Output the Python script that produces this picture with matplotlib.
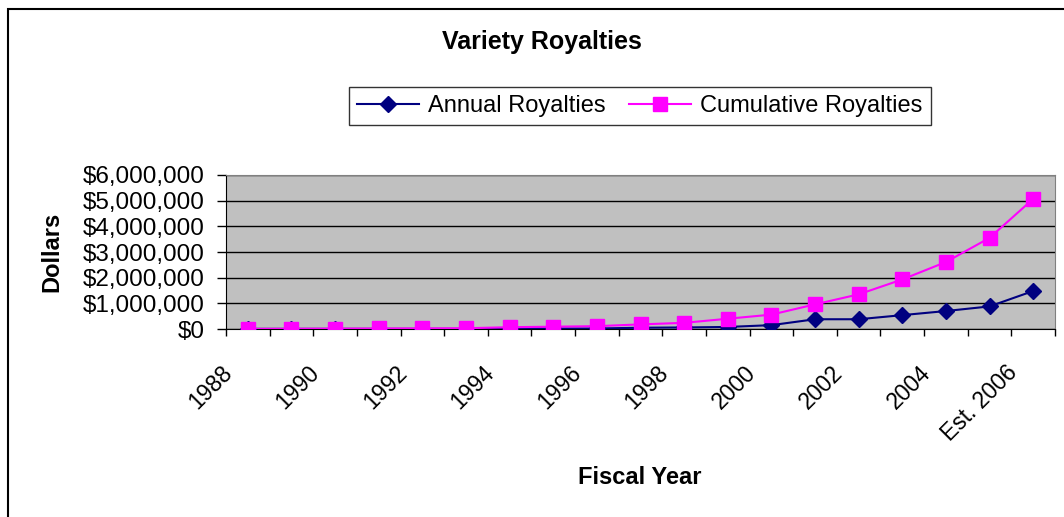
import matplotlib
matplotlib.use("Agg")
import matplotlib.pyplot as plt
import matplotlib.ticker as mticker
from matplotlib.transforms import ScaledTranslation
from matplotlib.patches import Rectangle

plt.rcParams['font.family'] = ['Liberation Sans', 'DejaVu Sans']

# fiscal years as shown on the category axis
years = ['1988', '1989', '1990', '1991', '1992', '1993', '1994', '1995', '1996',
         '1997', '1998', '1999', '2000', '2001', '2002', '2003', '2004', '2005',
         'Est. 2006']

# values (dollars)
annual = [5000, 5000, 5000, 5000, 5000, 5000, 40000, 20000, 20000,
          50000, 60000, 80000, 150000, 380000, 380000, 540000, 700000, 880000,
          1480000]
cumulative = [5000, 10000, 15000, 20000, 25000, 30000, 70000, 90000, 110000,
              180000, 240000, 400000, 560000, 960000, 1350000, 1930000, 2610000,
              3550000, 5070000]

y_ticks = [0, 1000000, 2000000, 3000000, 4000000, 5000000, 6000000]

W, H = 1064, 517
fig = plt.figure(figsize=(W / 100, H / 100), dpi=100)
ax = fig.add_axes([226 / W, 1 - 329 / H, 829 / W, 154 / H])
ax.set_facecolor('#C0C0C0')

x = list(range(len(years)))
ax.plot(x, annual, color='#000080', lw=1.5, marker='D', ms=8.5,
        label='Annual Royalties', zorder=4)
ax.plot(x, cumulative, color='#FF00FF', lw=1.5, marker='s', ms=9.5,
        label='Cumulative Royalties', zorder=5)

ax.set_xlim(-0.5, len(years) - 0.5)
ax.set_ylim(0, 6000000)
ax.set_yticks(y_ticks)
ax.yaxis.set_major_formatter(mticker.FuncFormatter(lambda v, p: f'${v:,.0f}'))
ax.yaxis.grid(True, color='black', lw=1)
ax.set_axisbelow(True)
ax.tick_params(axis='y', length=6.5, width=1, labelsize=17.5, pad=9, colors='black')

# labels on every other year, tick marks between categories
ax.set_xticks(x[::2])
ax.set_xticklabels(years[::2])
ax.set_xticks([i - 0.5 for i in range(len(years) + 1)], minor=True)
ax.tick_params(axis='x', which='major', length=0, labelsize=16.5, pad=23)
ax.tick_params(axis='x', which='minor', length=5, width=1, color='black')
shift = ScaledTranslation(-11 / 100, 0, fig.dpi_scale_trans)
for lbl in ax.get_xticklabels():
    lbl.set_rotation(45)
    lbl.set_ha('right')
    lbl.set_va('top')
    lbl.set_transform(lbl.get_transform() + shift)

for side in ['top', 'right']:
    ax.spines[side].set_color('#808080')
ax.spines['left'].set_color('black')
ax.spines['bottom'].set_color('black')

fig.text(542 / W, 1 - 42 / H, 'Variety Royalties', fontsize=18, fontweight='bold',
         ha='center', va='center')
fig.text(52 / W, 1 - 252 / H, 'Dollars', fontsize=17, fontweight='bold',
         rotation=90, ha='center', va='center')
fig.text(640 / W, 1 - 477 / H, 'Fiscal Year', fontsize=17, fontweight='bold',
         ha='center', va='center')

leg = fig.legend(loc='center', bbox_to_anchor=(640 / W, 1 - 106 / H), ncol=2,
                 fontsize=17, frameon=True, fancybox=False, handlelength=2.6,
                 columnspacing=1.0, handletextpad=0.4, borderpad=0.35)
leg.get_frame().set_edgecolor('black')
leg.get_frame().set_linewidth(1)

# chart area border (cut off at right and bottom)
fig.patches.append(Rectangle((8 / W, -0.1), 1.2, 1.1 - 9 / H,
                             transform=fig.transFigure, fill=False,
                             edgecolor='black', lw=1.5))

fig.savefig('out.png', dpi=100)
